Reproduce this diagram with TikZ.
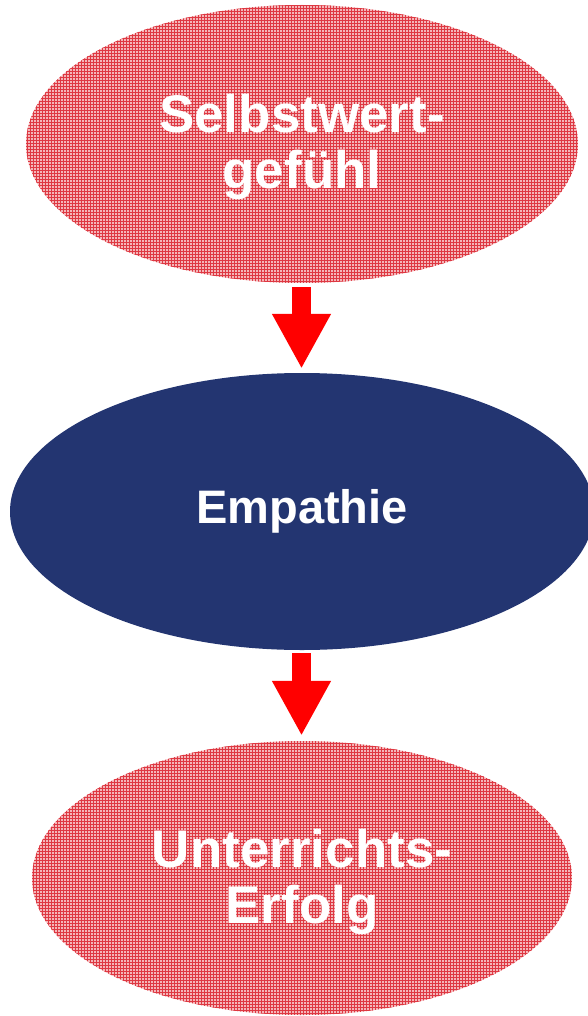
\documentclass[tikz,border=0pt]{standalone}
\usepackage{fontspec}
\setmainfont{Liberation Sans}
\usetikzlibrary{shapes.geometric,arrows.meta,patterns}
\definecolor{meshbg}{RGB}{244,182,185}
\definecolor{meshline}{RGB}{222,56,66}
\definecolor{navy}{RGB}{35,53,113}
\definecolor{arrowred}{RGB}{255,0,0}
\newcommand{\topstrut}{\rule{0pt}{45pt}}
\begin{document}
\begin{tikzpicture}[x=1pt,y=-1pt,
  meshell/.style={ellipse, inner sep=0pt, fill=meshbg,
    postaction={pattern=grid, pattern color=meshline},
    text=white, align=center, font=\bfseries\fontsize{53}{56}\selectfont},
  navyell/.style={ellipse, inner sep=0pt, fill=navy, text=white,
    font=\bfseries\fontsize{47}{50}\selectfont},
  bigarrow/.style={draw=arrowred, line width=19pt,
    -{Triangle[width=55pt,length=55pt]}}]
\useasboundingbox (0,0) rectangle (588,1016);
\node[meshell, minimum width=552pt, minimum height=278pt] (s) at (302,144) {\topstrut Selbstwert-\\gefühl};
\node[navyell, minimum width=584pt, minimum height=277pt] (e) at (302,511.5) {Empathie};
\node[meshell, minimum width=540pt, minimum height=274pt] (u) at (302,878) {\rule{0pt}{47pt}Unterrichts-\\Erfolg};
\coordinate (ax) at (301.5,0);
\draw[bigarrow, shorten <=4pt, shorten >=4pt] (ax |- s.south) -- (ax |- e.north);
\draw[bigarrow, shorten <=3pt, shorten >=5pt] (ax |- e.south) -- (ax |- u.north);
\end{tikzpicture}
\end{document}
